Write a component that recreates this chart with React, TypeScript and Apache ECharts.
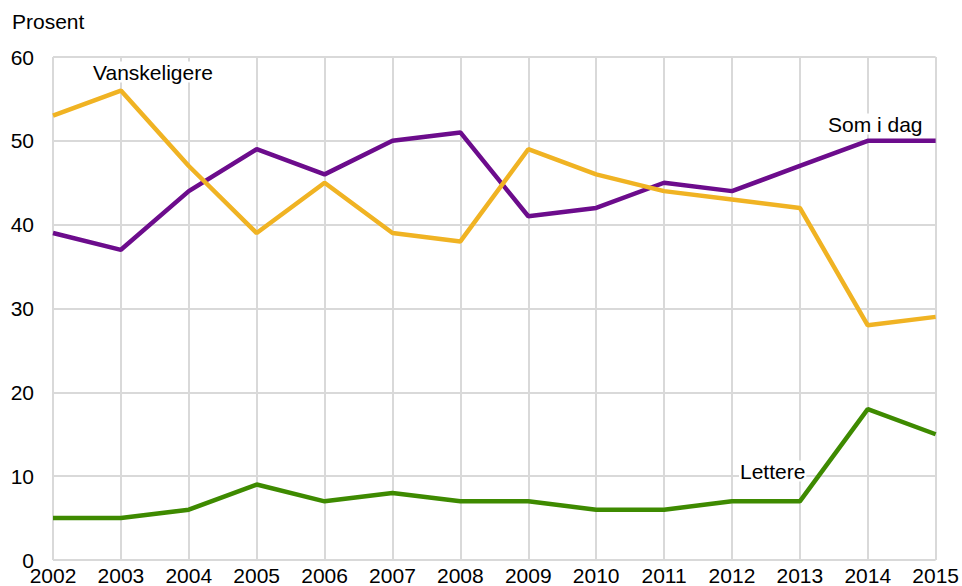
import React, { useEffect, useRef } from "react";
import * as echarts from "echarts";

const years = ["2002","2003","2004","2005","2006","2007","2008","2009","2010","2011","2012","2013","2014","2015"];
const somIDag = [39, 37, 44, 49, 46, 50, 51, 41, 42, 45, 44, 47, 50, 50];
const vanskeligere = [53, 56, 47, 39, 45, 39, 38, 49, 46, 44, 43, 42, 28, 29];
const lettere = [5, 5, 6, 9, 7, 8, 7, 7, 6, 6, 7, 7, 18, 15];
const yTicks = { min: 0, max: 60, interval: 10 };

export default function App() {
  const ref = useRef<HTMLDivElement>(null);
  useEffect(() => {
    if (!ref.current) return;
    const chart = echarts.init(ref.current, null, { renderer: "svg" });
    const font = "Liberation Sans, Arial, sans-serif";
    const grid = "#d9d9d9";
    const fs = 21;
    const label = (text: string, x: number, y: number) => ({
      type: "text",
      z: 100,
      style: {
        x,
        y,
        text,
        fontSize: fs,
        fill: "#000",
        fontFamily: font,
        verticalAlign: "middle",
        align: "left",
        backgroundColor: "#fff",
        padding: [0, 1, 0, 1],
      },
    });
    chart.setOption({
      animation: false,
      textStyle: { fontFamily: font },
      grid: { left: 53, right: 24, top: 57, bottom: 25 },
      xAxis: {
        type: "category",
        data: years,
        boundaryGap: false,
        axisLine: { show: false },
        axisTick: { show: false },
        axisLabel: { color: "#000", fontSize: fs, margin: 5, fontFamily: font },
        splitLine: { show: true, lineStyle: { color: grid, width: 2 } },
      },
      yAxis: {
        type: "value",
        min: yTicks.min,
        max: yTicks.max,
        interval: yTicks.interval,
        axisLine: { show: false },
        axisTick: { show: false },
        axisLabel: { color: "#000", fontSize: fs, margin: 19, fontFamily: font },
        splitLine: { show: true, lineStyle: { color: grid, width: 2 } },
      },
      series: [
        { name: "Som i dag", type: "line", data: somIDag, symbol: "none", lineStyle: { color: "#6c0c8c", width: 4.5 } },
        { name: "Vanskeligere", type: "line", data: vanskeligere, symbol: "none", lineStyle: { color: "#f0b323", width: 4.5 } },
        { name: "Lettere", type: "line", data: lettere, symbol: "none", lineStyle: { color: "#3e8a00", width: 4.5 } },
      ],
      graphic: [
        { type: "text", z: 100, style: { x: 12, y: 21, text: "Prosent", fontSize: fs, fill: "#000", fontFamily: font, verticalAlign: "middle" } },
        label("Vanskeligere", 92, 72),
        label("Som i dag", 827, 124),
        label("Lettere", 739, 471),
      ],
    });
    return () => chart.dispose();
  }, []);
  return <div ref={ref} style={{ width: 962, height: 586, position: "absolute", left: 0, top: 0 }} />;
}
